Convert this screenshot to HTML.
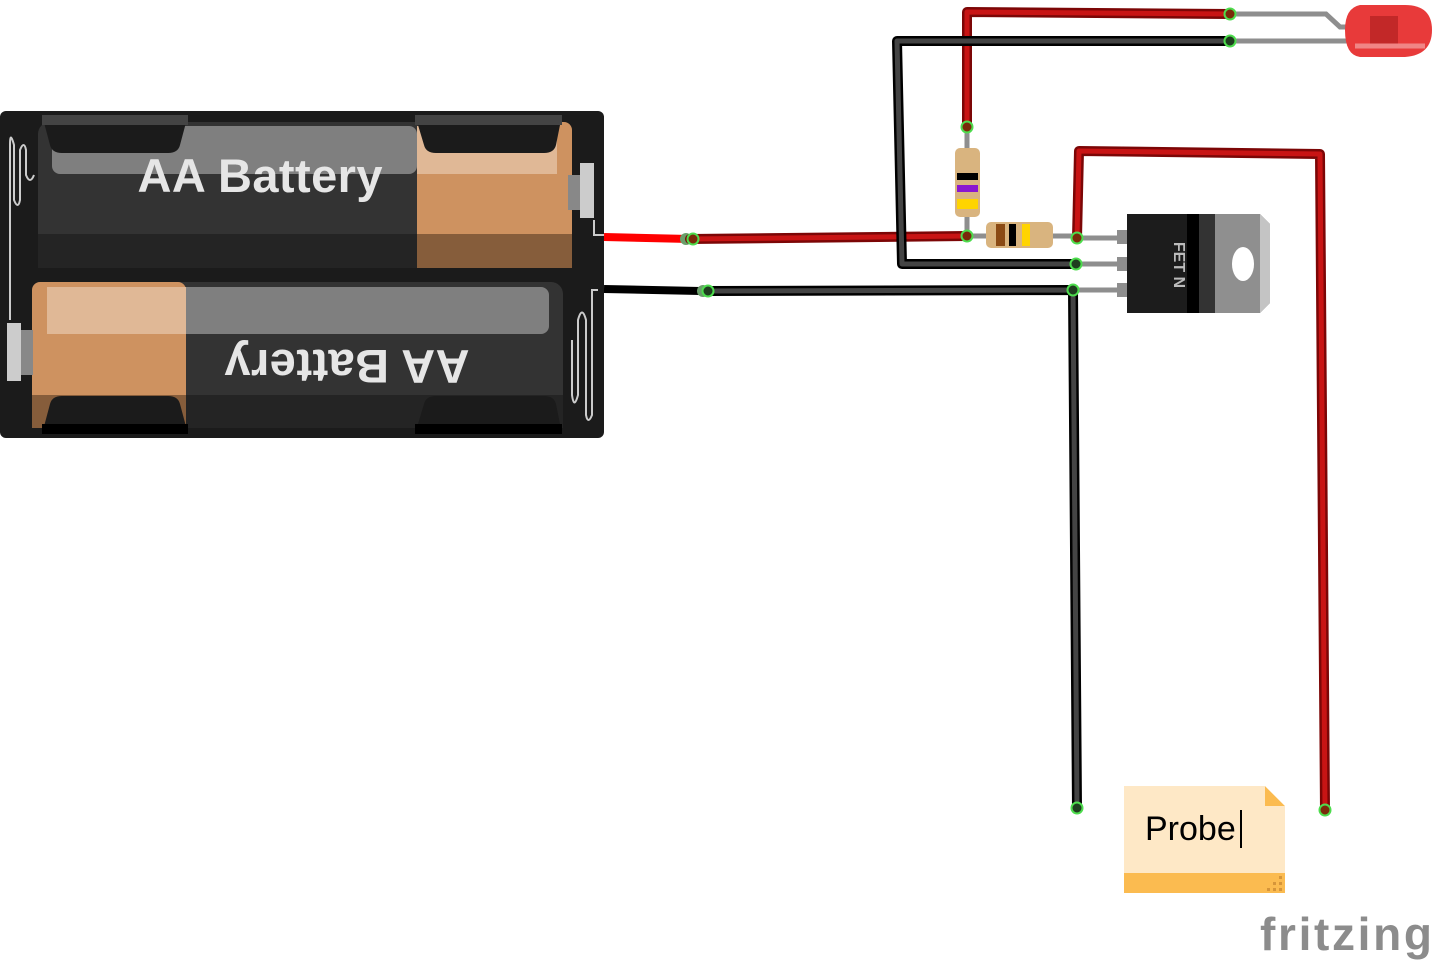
<!DOCTYPE html>
<html><head><meta charset="utf-8"><style>html,body{margin:0;padding:0;background:#fff}svg{display:block}</style></head>
<body>
<svg width="1434" height="963" viewBox="0 0 1434 963" xmlns="http://www.w3.org/2000/svg" font-family="Liberation Sans, sans-serif">
<!-- battery holder -->
<rect x="0" y="111" width="604" height="327" rx="6" fill="#1b1b1b"/>
<!-- top cell -->
<rect x="38" y="122" width="534" height="146" rx="12" fill="#333"/>
<rect x="38" y="234" width="534" height="34" fill="#242424"/>
<rect x="417" y="122" width="155" height="146" rx="8" fill="#ce9260"/>
<rect x="417" y="234" width="155" height="34" fill="#865d3b"/>
<rect x="52" y="126" width="365" height="48" rx="8" fill="#7f7f7f"/>
<rect x="417" y="126" width="140" height="48" fill="#e0b896"/>
<path d="M42 115 H188 L180 145 Q178 153 168 153 H62 Q52 153 50 145 Z" fill="#1b1b1b"/>
<path d="M415 115 H562 L556 145 Q554 153 544 153 H436 Q426 153 424 145 Z" fill="#1b1b1b"/>
<rect x="42" y="115" width="146" height="10" fill="#444"/>
<rect x="415" y="115" width="147" height="10" fill="#444"/>
<rect x="568" y="175" width="12" height="35" fill="#888"/>
<rect x="580" y="163" width="14" height="55" fill="#ccc"/>
<text x="260" y="192" text-anchor="middle" font-size="47" font-weight="bold" fill="#e6e6e6" textLength="245">AA Battery</text>
<!-- bottom cell -->
<rect x="32" y="282" width="531" height="146" rx="12" fill="#333"/>
<rect x="32" y="395" width="531" height="33" fill="#242424"/>
<rect x="32" y="282" width="154" height="146" rx="8" fill="#ce9260"/>
<rect x="32" y="395" width="154" height="33" fill="#865d3b"/>
<rect x="47" y="287" width="502" height="47" rx="8" fill="#7f7f7f"/>
<rect x="47" y="287" width="139" height="47" fill="#e0b896"/>
<path d="M42 434 H188 L180 404 Q178 396 168 396 H62 Q52 396 50 404 Z" fill="#1b1b1b"/>
<path d="M415 434 H562 L556 404 Q554 396 544 396 H436 Q426 396 424 404 Z" fill="#1b1b1b"/>
<rect x="42" y="424" width="146" height="10" fill="#000"/>
<rect x="415" y="424" width="147" height="10" fill="#000"/>
<rect x="21" y="330" width="12" height="45" fill="#888"/>
<rect x="7" y="323" width="14" height="58" fill="#ccc"/>
<text x="347" y="380" text-anchor="middle" font-size="47" font-weight="bold" fill="#e6e6e6" textLength="245" transform="rotate(180 347 365)">AA Battery</text>
<!-- springs -->
<path d="M10 320 V145 Q10 130 14 145 V200 Q18 210 20 200 V150 Q24 140 26 150 V175 Q30 185 34 175" fill="none" stroke="#ccc" stroke-width="2"/>
<path d="M598 290 H592 V415 Q588 425 586 415 V320 Q582 305 578 320 V395 Q574 410 572 395 V340" fill="none" stroke="#ccc" stroke-width="2"/>
<path d="M594 220 V235 H604" fill="none" stroke="#ccc" stroke-width="2"/>
<!-- battery leads -->
<line x1="604" y1="237" x2="690" y2="239" stroke="#f00" stroke-width="8"/>
<line x1="604" y1="289" x2="700" y2="291" stroke="#000" stroke-width="8"/>
<circle cx="686" cy="239" r="6" fill="#6a9e6a"/>
<circle cx="703" cy="291" r="6" fill="#6a9e6a"/>
<!-- component legs -->
<g stroke="#8e8e8e" stroke-width="5" fill="none">
<path d="M1230 14 H1326 L1340 27 H1350"/>
<path d="M1230 41 H1352"/>
<path d="M967 127 V236 H1077"/>
<path d="M1077 238 H1127 M1076 264 H1127 M1073 290 H1127"/>
</g>
<g fill="none" stroke-linejoin="round" stroke-linecap="round">
<g stroke="#7c0606" stroke-width="10">
<path d="M690 239 L967 236"/>
<path d="M967 127 V12 L1230 14"/>
<path d="M1077 238 L1079 151 L1320 154 L1325 810"/>
</g>
<g stroke="#c81414" stroke-width="5">
<path d="M690 239 L967 236"/>
<path d="M967 127 V12 L1230 14"/>
<path d="M1077 238 L1079 151 L1320 154 L1325 810"/>
</g>
<g stroke="#000" stroke-width="10">
<path d="M1230 41 L897 41 L902 264 L1076 264"/>
<path d="M708 291 L1073 290 L1077 808"/>
</g>
<g stroke="#444" stroke-width="5">
<path d="M1230 41 L897 41 L902 264 L1076 264"/>
<path d="M708 291 L1073 290 L1077 808"/>
</g>
</g>
<!-- LED -->
<path d="M1360 5 Q1345 8 1345 30 Q1345 55 1360 57 H1405 Q1432 55 1432 30 Q1432 5 1405 5 Z" fill="#e83a3a"/>
<rect x="1370" y="16" width="28" height="30" fill="#c22828"/>
<path d="M1355 46 H1425" stroke="#f08585" stroke-width="5"/>
<!-- vertical resistor -->
<rect x="955" y="148" width="25" height="69" rx="5" fill="#d9b47f"/>
<rect x="957" y="173" width="21" height="7" fill="#000"/>
<rect x="957" y="185" width="21" height="7" fill="#8a17d0"/>
<rect x="957" y="199" width="21" height="10" fill="#ffd400"/>
<!-- horizontal resistor -->
<rect x="986" y="222" width="67" height="26" rx="5" fill="#d9b47f"/>
<rect x="996" y="224" width="9" height="22" fill="#8a4a14"/>
<rect x="1009" y="224" width="7" height="22" fill="#000"/>
<rect x="1022" y="224" width="8" height="22" fill="#ffd400"/>
<!-- transistor -->
<rect x="1117" y="230" width="10" height="14" fill="#8e8e8e"/>
<rect x="1117" y="257" width="10" height="14" fill="#8e8e8e"/>
<rect x="1117" y="283" width="10" height="14" fill="#8e8e8e"/>
<rect x="1127" y="214" width="88" height="99" fill="#1c1c1c"/>
<rect x="1187" y="214" width="12" height="99" fill="#000"/>
<rect x="1199" y="214" width="16" height="99" fill="#333"/>
<path d="M1215 214 H1260 L1270 224 V303 L1260 313 H1215 Z" fill="#8f8f8f"/>
<path d="M1260 214 L1270 224 V303 L1260 313 Z" fill="#c4c4c4"/>
<ellipse cx="1243" cy="264" rx="11" ry="17" fill="#fff"/>
<text x="1180" y="265" text-anchor="middle" font-size="16" font-weight="bold" fill="#bbb" transform="rotate(90 1180 265)" dy="6">FET N</text>
<!-- connection dots -->
<g fill="#7a2a0a" stroke="#4ddc4d" stroke-width="2">
<circle cx="693" cy="239" r="5.5"/><circle cx="967" cy="127" r="5.5"/><circle cx="967" cy="236" r="5.5"/>
<circle cx="1230" cy="14" r="5.5"/><circle cx="1077" cy="238" r="5.5"/><circle cx="1325" cy="810" r="5.5"/>
</g>
<g fill="#1f3d1f" stroke="#4ddc4d" stroke-width="2">
<circle cx="708" cy="291" r="5.5"/><circle cx="1230" cy="41" r="5.5"/><circle cx="1076" cy="264" r="5.5"/>
<circle cx="1073" cy="290" r="5.5"/><circle cx="1077" cy="808" r="5.5"/>
</g>
<!-- probe note -->
<rect x="1124" y="786" width="161" height="107" fill="#fee8c6"/>
<path d="M1265 786 L1285 806 H1265 Z" fill="#fbbb50"/>
<path d="M1265 786 H1285 V806 Z" fill="#fff"/>
<rect x="1124" y="873" width="161" height="20" fill="#fbbb50"/>
<g fill="#d6953a"><rect x="1279" y="876" width="3" height="3"/><rect x="1273" y="882" width="3" height="3"/><rect x="1279" y="882" width="3" height="3"/><rect x="1267" y="888" width="3" height="3"/><rect x="1273" y="888" width="3" height="3"/><rect x="1279" y="888" width="3" height="3"/></g>
<text x="1145" y="840" font-size="34" fill="#000">Probe</text>
<rect x="1240" y="810" width="2" height="38" fill="#000"/>
<!-- logo -->
<text x="1260" y="950" font-size="46" font-weight="bold" fill="#8c8c8c" textLength="172">fritzing</text>
</svg>
</body></html>
